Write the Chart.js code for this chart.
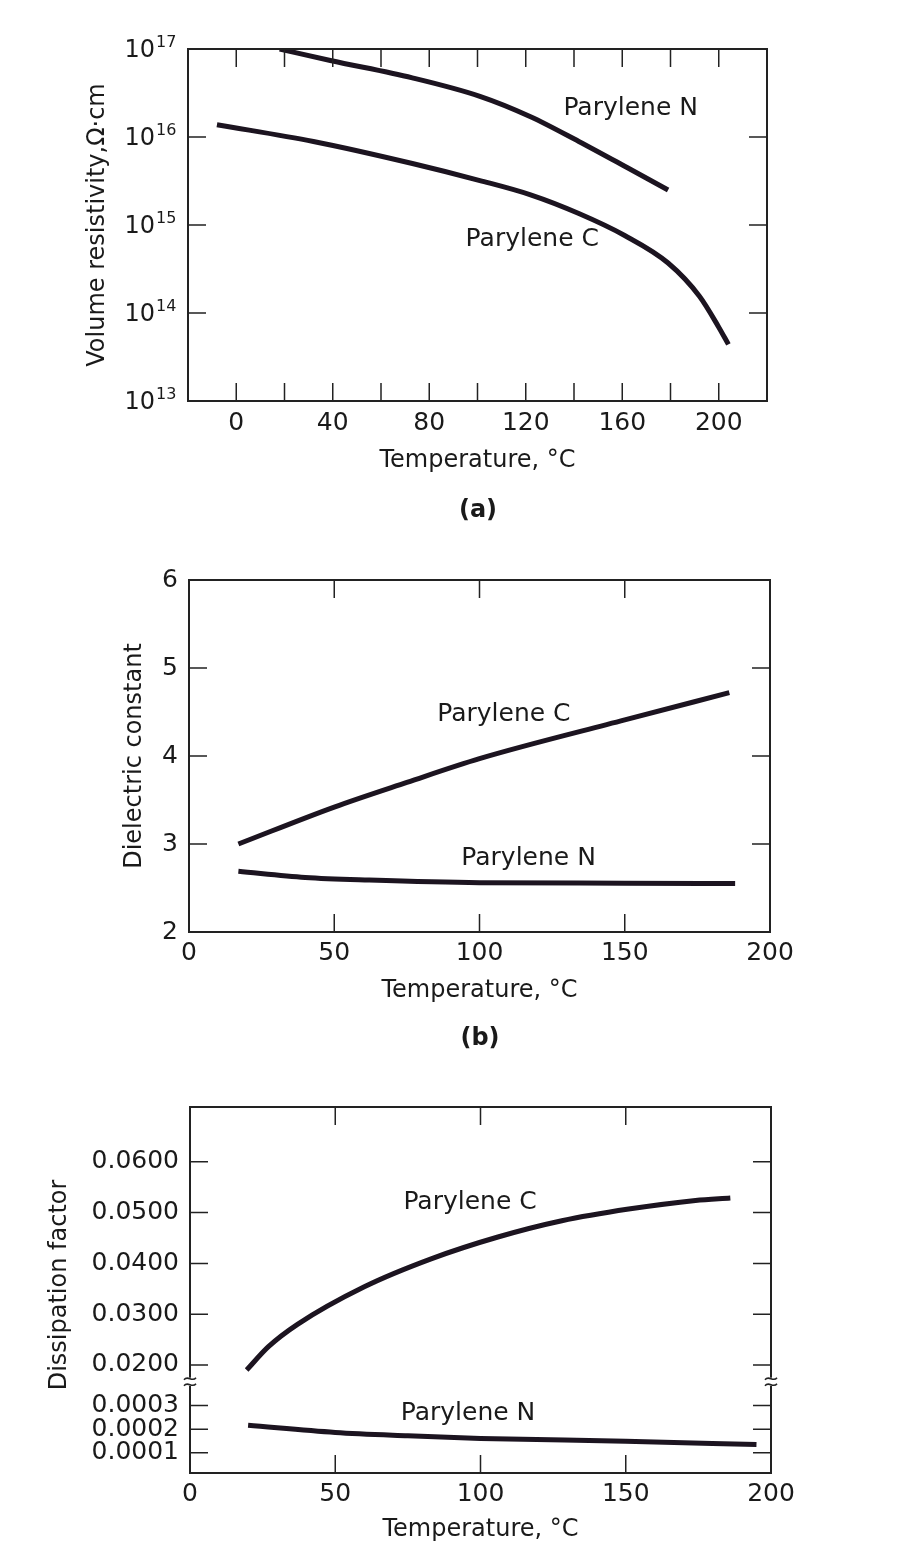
<!DOCTYPE html>
<html>
<head>
<meta charset="utf-8">
<title>Parylene electrical properties</title>
<script src="https://cdn.jsdelivr.net/npm/chart.js@4.4.0/dist/chart.umd.min.js"></script>
<style>
  body { margin: 0; background: #fff; }
  #page { position: relative; width: 920px; height: 1564px; background: #fff; overflow: hidden; }
  canvas { position: absolute; left: 0; }
  .cap {
    position: absolute; width: 60px; margin-left: -30px; text-align: center;
    font: bold 24px "DejaVu Sans", "Liberation Sans", sans-serif; line-height: 1; color: #1a1a1a;
  }
</style>
</head>
<body>
<div id="page">
  <canvas id="chartA" width="920" height="530" style="top:0"></canvas>
  <div class="cap" style="left:478px; top:497px">(a)</div>
  <canvas id="chartB" width="920" height="530" style="top:530px"></canvas>
  <div class="cap" style="left:480px; top:1025px">(b)</div>
  <canvas id="chartC" width="920" height="504" style="top:1060px"></canvas>
</div>
<script>
// ---- (a) volume resistivity, ohm·cm (log axis) ----
const tempN_a = [18, 39, 73, 101, 122, 142, 162, 179];
const resistN_a = [1.0e17, 7.4e16, 4.7e16, 2.9e16, 1.7e16, 8.9e15, 4.5e15, 2.5e15];
const tempC_a = [-8, 32, 73, 101, 122, 142, 161, 179, 192, 200, 204];
const resistC_a = [1.38e16, 8.9e15, 5.0e15, 3.2e15, 2.2e15, 1.35e15, 7.6e14, 3.7e14, 1.55e14, 6.9e13, 4.4e13];
const resistTicks = [1e13, 1e14, 1e15, 1e16, 1e17];

// ---- (b) dielectric constant ----
const tempC_b = [17, 50, 75, 100, 150, 186];
const dielC_b = [3.0, 3.42, 3.70, 3.97, 4.41, 4.72];
const tempN_b = [17, 40, 62, 100, 150, 188];
const dielN_b = [2.69, 2.62, 2.59, 2.56, 2.555, 2.55];

// ---- (c) dissipation factor (broken axis) ----
const tempC_c = [19.5, 27, 37, 60, 83, 106, 128, 151, 174, 186];
const dissC_c = [0.0190, 0.0236, 0.0280, 0.0354, 0.0409, 0.0452, 0.0484, 0.0507, 0.0524, 0.0529];
const tempN_c = [20, 50, 75, 100, 150, 195];
const dissN_c = [0.000216, 0.000186, 0.000172, 0.000161, 0.000149, 0.000135];
const dissHighTicks = [0.02, 0.03, 0.04, 0.05, 0.06];
const dissLowTicks = [0.0001, 0.0002, 0.0003];

const FONT = '"DejaVu Sans", "Liberation Sans", sans-serif';
const ink = '#1c1420';
const textInk = '#1a1a1a';
const TICK_LEN = 18;

const points = (xs, ys) => xs.map((x, i) => ({ x: x, y: ys[i] }));

const curve = (label, data, yAxisID) => ({
  label, data, yAxisID: yAxisID || 'y',
  borderColor: ink, borderWidth: 5, pointRadius: 0,
  cubicInterpolationMode: 'monotone', fill: false
});

// box round the plot with inward ticks on all four sides, optional axis break
const framePlugin = (breakScale) => ({
  id: 'frame',
  afterDatasetsDraw(chart) {
    const { ctx, chartArea: a, scales } = chart;
    ctx.save();
    ctx.strokeStyle = '#222';
    ctx.lineWidth = 2;
    ctx.strokeRect(a.left, a.top, a.right - a.left, a.bottom - a.top);
    ctx.lineWidth = 1.5;
    ctx.beginPath();
    Object.values(scales).forEach(s => {
      s.ticks.forEach(t => {
        const p = s.getPixelForValue(t.value);
        if (s.isHorizontal()) {
          if (p <= a.left + 2 || p >= a.right - 2) return;
          ctx.moveTo(p, a.bottom); ctx.lineTo(p, a.bottom - TICK_LEN);
          ctx.moveTo(p, a.top); ctx.lineTo(p, a.top + TICK_LEN);
        } else {
          if (p <= s.top + 2 || p >= s.bottom - 2) return;
          ctx.moveTo(a.left, p); ctx.lineTo(a.left + TICK_LEN, p);
          ctx.moveTo(a.right, p); ctx.lineTo(a.right - TICK_LEN, p);
        }
      });
    });
    ctx.stroke();
    if (breakScale) {
      const y = scales[breakScale].top;
      [a.left, a.right].forEach(x => {
        ctx.fillStyle = '#fff';
        ctx.fillRect(x - 3, y - 4, 6, 8);
        ctx.lineWidth = 1.6;
        [-3, 3].forEach(d => {
          ctx.beginPath();
          ctx.moveTo(x - 6, y + d + 1);
          ctx.bezierCurveTo(x - 2, y + d - 4, x + 2, y + d + 4, x + 6, y + d - 1);
          ctx.stroke();
        });
      });
    }
    ctx.restore();
  }
});

// text labels next to the curves, anchored in data units
const labelPlugin = (items) => ({
  id: 'curveLabels',
  afterDraw(chart) {
    const { ctx, scales } = chart;
    ctx.save();
    ctx.fillStyle = textInk;
    ctx.font = '25px ' + FONT;
    ctx.textAlign = 'center';
    ctx.textBaseline = 'middle';
    items.forEach(it => {
      ctx.fillText(it.text, scales.x.getPixelForValue(it.x), scales[it.axis || 'y'].getPixelForValue(it.y));
    });
    ctx.restore();
  }
});

// 10^n tick labels with a raised exponent
const powerTickPlugin = {
  id: 'powerTicks',
  afterDraw(chart) {
    const { ctx, chartArea: a, scales } = chart;
    const xEnd = a.left - 33;
    ctx.save();
    ctx.fillStyle = textInk;
    ctx.textBaseline = 'alphabetic';
    scales.y.ticks.forEach(t => {
      const p = scales.y.getPixelForValue(t.value);
      ctx.font = '24px ' + FONT;
      ctx.textAlign = 'right';
      ctx.fillText('10', xEnd, p + 8);
      ctx.font = '16px ' + FONT;
      ctx.textAlign = 'left';
      ctx.fillText(String(Math.round(Math.log10(t.value))), xEnd + 1, p - 2);
    });
    ctx.restore();
  }
};

// plain y title for the stacked-axis chart
const sideTitlePlugin = (text, x, y) => ({
  id: 'sideTitle',
  afterDraw(chart) {
    const { ctx } = chart;
    ctx.save();
    ctx.translate(x, y);
    ctx.rotate(-Math.PI / 2);
    ctx.fillStyle = textInk;
    ctx.font = '24px ' + FONT;
    ctx.textAlign = 'center';
    ctx.textBaseline = 'middle';
    ctx.fillText(text, 0, 0);
    ctx.restore();
  }
});

const tickFont = { family: FONT, size: 25 };
const titleFont = { family: FONT, size: 24 };
const noGrid = { display: false, drawTicks: false };

const baseOptions = (padding) => ({
  responsive: false,
  animation: false,
  layout: { padding: padding },
  plugins: { legend: { display: false }, tooltip: { enabled: false } }
});

// ---------- chart (a) ----------
new Chart(document.getElementById('chartA'), {
  type: 'line',
  data: {
    datasets: [
      curve('Parylene N', points(tempN_a, resistN_a)),
      curve('Parylene C', points(tempC_a, resistC_a))
    ]
  },
  options: {
    ...baseOptions({ top: 49, right: 153, left: 0, bottom: 0 }),
    scales: {
      x: {
        type: 'linear', min: -20, max: 220,
        grid: noGrid, border: { display: false },
        ticks: {
          stepSize: 20, autoSkip: false, maxRotation: 0, padding: 7,
          color: textInk, font: tickFont,
          callback: v => (v >= 0 && v <= 200 && v % 40 === 0) ? String(v) : ''
        },
        title: { display: true, text: 'Temperature, °C', color: textInk, font: titleFont, padding: { top: 0, bottom: 55 } },
        afterFit: s => { s.height = 129; }
      },
      y: {
        type: 'logarithmic', min: 1e13, max: 1e17,
        grid: noGrid, border: { display: false },
        ticks: { display: false },
        afterBuildTicks: s => { s.ticks = resistTicks.map(v => ({ value: v })); },
        title: { display: true, text: 'Volume resistivity,Ω·cm', color: textInk, font: titleFont, padding: { top: 83, bottom: 0 } },
        afterFit: s => { s.width = 188; }
      }
    }
  },
  plugins: [
    framePlugin(null),
    labelPlugin([
      { text: 'Parylene N', x: 163.5, y: 2.1e16 },
      { text: 'Parylene C', x: 122.7, y: 6.9e14 }
    ]),
    powerTickPlugin
  ]
});

// ---------- chart (b) ----------
new Chart(document.getElementById('chartB'), {
  type: 'line',
  data: {
    datasets: [
      curve('Parylene C', points(tempC_b, dielC_b)),
      curve('Parylene N', points(tempN_b, dielN_b))
    ]
  },
  options: {
    ...baseOptions({ top: 50, right: 150, left: 0, bottom: 0 }),
    scales: {
      x: {
        type: 'linear', min: 0, max: 200,
        grid: noGrid, border: { display: false },
        ticks: { stepSize: 50, autoSkip: false, maxRotation: 0, padding: 6, color: textInk, font: tickFont },
        title: { display: true, text: 'Temperature, °C', color: textInk, font: titleFont, padding: { top: 0, bottom: 55 } },
        afterFit: s => { s.height = 128; }
      },
      y: {
        type: 'linear', min: 2, max: 6,
        grid: noGrid, border: { display: false },
        ticks: { stepSize: 1, autoSkip: false, padding: 11, color: textInk, font: tickFont },
        title: { display: true, text: 'Dielectric constant', color: textInk, font: titleFont, padding: { top: 120, bottom: 0 } },
        afterFit: s => { s.width = 189; }
      }
    }
  },
  plugins: [
    framePlugin(null),
    labelPlugin([
      { text: 'Parylene C', x: 108.4, y: 4.47 },
      { text: 'Parylene N', x: 116.9, y: 2.84 }
    ])
  ]
});

// ---------- chart (c) ----------
// the two y scales share one stack; the lower range is declared first so it sits at the bottom
new Chart(document.getElementById('chartC'), {
  type: 'line',
  data: {
    datasets: [
      curve('Parylene C', points(tempC_c, dissC_c), 'yHigh'),
      curve('Parylene N', points(tempN_c, dissN_c), 'yLow')
    ]
  },
  options: {
    ...baseOptions({ top: 47, right: 149, left: 0, bottom: 0 }),
    scales: {
      x: {
        type: 'linear', min: 0, max: 200,
        grid: noGrid, border: { display: false },
        ticks: { stepSize: 50, autoSkip: false, maxRotation: 0, padding: 6, color: textInk, font: tickFont },
        title: { display: true, text: 'Temperature, °C', color: textInk, font: titleFont, padding: { top: 0, bottom: 20 } },
        afterFit: s => { s.height = 91; }
      },
      yLow: {
        type: 'linear', position: 'left', stack: 'diss', stackWeight: 91.3,
        min: 0.000015, max: 0.0004,
        grid: noGrid, border: { display: false },
        afterBuildTicks: s => { s.ticks = dissLowTicks.map(v => ({ value: v })); },
        ticks: { autoSkip: false, padding: 11, color: textInk, font: tickFont, callback: v => v.toFixed(4) },
        afterFit: s => { s.width = 190; }
      },
      yHigh: {
        type: 'linear', position: 'left', stack: 'diss', stackWeight: 274.7,
        min: 0.0167, max: 0.0708,
        grid: noGrid, border: { display: false },
        afterBuildTicks: s => { s.ticks = dissHighTicks.map(v => ({ value: v })); },
        ticks: { autoSkip: false, padding: 11, color: textInk, font: tickFont, callback: v => v.toFixed(4) },
        afterFit: s => { s.width = 190; }
      }
    }
  },
  plugins: [
    framePlugin('yLow'),
    labelPlugin([
      { text: 'Parylene C', x: 96.4, y: 0.0519, axis: 'yHigh' },
      { text: 'Parylene N', x: 95.7, y: 0.000266, axis: 'yLow' }
    ]),
    sideTitlePlugin('Dissipation factor', 60, 225)
  ]
});
</script>
</body>
</html>
